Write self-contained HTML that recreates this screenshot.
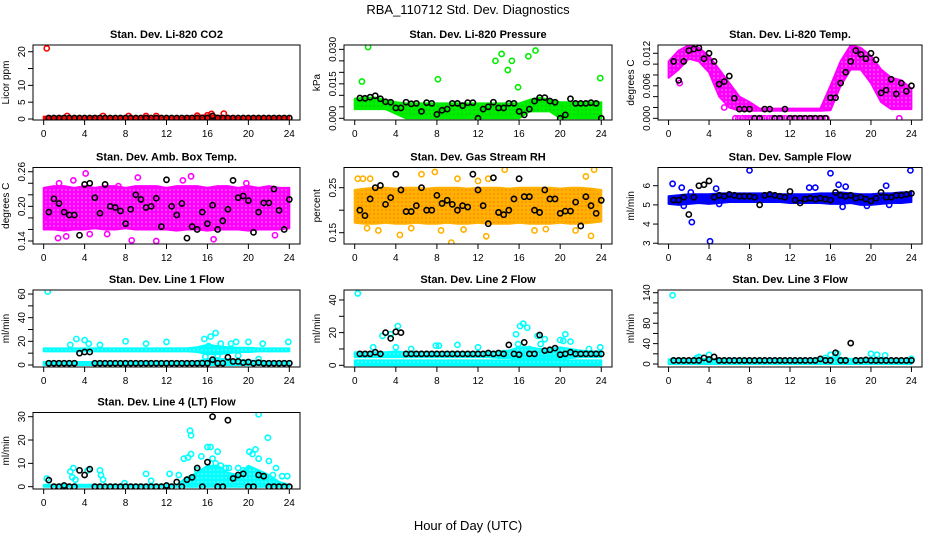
<!DOCTYPE html>
<html><head><meta charset="utf-8"><style>
html,body{margin:0;padding:0;background:#fff}
svg{display:block;font-family:"Liberation Sans",Arial,sans-serif}
</style></head><body>
<svg id="chart" width="936" height="540" viewBox="0 0 936 540">
<text x="468" y="14" text-anchor="middle" font-size="13">RBA_110712  Std. Dev. Diagnostics</text>
<text x="468" y="530" text-anchor="middle" font-size="13">Hour of Day (UTC)</text>
</svg>
<script>
const hours = [0,1,2,3,4,5,6,7,8,9,10,11,12,13,14,15,16,17,18,19,20,21,22,23,24];
const halfHours = [0.5,1,1.5,2,2.5,3,3.5,4,4.5,5,5.5,6,6.5,7,7.5,8,8.5,9,9.5,10,10.5,11,11.5,12,12.5,13,13.5,14,14.5,15,15.5,16,16.5,17,17.5,18,18.5,19,19.5,20,20.5,21,21.5,22,22.5,23,23.5,24];
const xTicks = [0,4,8,12,16,20,24];

// Panel 1 CO2
const co2BandLo = [0,0,0,0,0,0,0,0,0,0,0,0,0,0,0,0,0,0,0,0,0,0,0,0,0];
const co2BandHi = [0.7,0.7,0.8,0.7,0.7,0.8,0.7,0.7,0.8,0.7,0.8,0.8,0.7,0.7,0.8,1.0,1.1,1.0,0.8,0.7,0.7,0.7,0.7,0.7,0.7];
const co2Outliers = [[0.3,21],[16.4,1.5],[17.6,1.6],[2.3,0.9],[5.8,0.9],[8.3,0.9],[10,0.9],[11,0.9],[15,1.0],[16,1.1]];
const co2Black = [0.3,0.3,0.3,0.3,0.3,0.3,0.3,0.3,0.3,0.3,0.3,0.3,0.3,0.3,0.3,0.3,0.3,0.3,0.3,0.3,0.3,0.3,0.3,0.3,0.3,0.3,0.3,0.3,0.3,0.3,0.3,0.3,0.9,0.3,0.3,0.3,0.3,0.3,0.3,0.3,0.3,0.3,0.3,0.3,0.3,0.3,0.3,0.3];

// Panel 2 Pressure
const presBandLo = [0.004,0.004,0.004,0.004,0.002,0,0,0,0,0,0,0,0,0,0,0,0,0.003,0.003,0.003,0,0,0,0,0];
const presBandHi = [0.0085,0.009,0.009,0.008,0.007,0.0065,0.0065,0.0065,0.0065,0.0065,0.0065,0.0065,0.0065,0.0065,0.0065,0.0065,0.0065,0.008,0.009,0.008,0.007,0.007,0.007,0.007,0.007];
const presOutliers = [[0.7,0.016],[1.3,0.031],[8.1,0.017],[13.7,0.025],[14.3,0.028],[14.9,0.021],[15.3,0.025],[15.9,0.0135],[16.9,0.027],[17.6,0.0295],[23.9,0.0175]];
const presBlack = [0.0088,0.0087,0.0092,0.0098,0.0085,0.0072,0.007,0.0045,0.0045,0.007,0.0063,0.0065,0.003,0.0068,0.0065,0.0017,0.0035,0.004,0.0065,0.0065,0.0055,0.0068,0.0068,0,0.004,0.005,0.007,0.0045,0.0045,0.0065,0.0065,0.003,0.0015,0.004,0.0075,0.009,0.009,0.0075,0.007,0,0.0015,0.0085,0.0065,0.0065,0.0065,0.0068,0.0065,0];

// Panel 3 Li-820 Temp
const tempBandLo = [0.0075,0.009,0.011,0.0105,0.0085,0.004,0.002,0.0014,0.0014,0.0014,0.0014,0.0014,0.0014,0.0014,0.0014,0.0014,0.0015,0.006,0.009,0.009,0.0065,0.003,0.0017,0.0017,0.0017];
const tempBandHi = [0.0105,0.0125,0.0135,0.013,0.0115,0.009,0.0065,0.004,0.003,0.0018,0.0018,0.0018,0.0018,0.0018,0.0018,0.0018,0.006,0.0105,0.0135,0.013,0.0115,0.009,0.0075,0.007,0.0055];
const tempOutliers = [[6.6,0],[6.9,0],[7.3,0],[7.6,0],[7.9,0],[8.2,0],[8.5,0],[8.9,0],[9.2,0],[9.5,0],[9.9,0],[10.2,0],[10.5,0],[10.9,0],[11.2,0],[11.5,0],[11.9,0],[12.2,0],[12.5,0],[12.9,0],[13.2,0],[13.5,0],[13.9,0],[14.2,0],[14.5,0],[14.9,0],[15.2,0],[15.6,0],[22.8,0],[1.1,0.0065],[5.5,0.002]];
const tempBlack = [0.0105,0.007,0.0105,0.0125,0.0128,0.013,0.011,0.012,0.0105,0.0063,0.0068,0.0078,0.0037,0.0017,0.0017,0.0017,0,0,0.0017,0.0017,0,0,0.0017,0,0,0,0,0,0,0,0,0.0038,0.0038,0.0065,0.0085,0.0105,0.0125,0.0118,0.011,0.012,0.0108,0.0047,0.0052,0.0072,0.0045,0.0065,0.005,0.006];

// Panel 4 Amb Box Temp
const ambBandLo = [0.16,0.16,0.158,0.16,0.16,0.162,0.16,0.16,0.162,0.16,0.16,0.16,0.16,0.158,0.16,0.16,0.158,0.16,0.16,0.16,0.158,0.16,0.16,0.16,0.162];
const ambBandHi = [0.232,0.235,0.235,0.232,0.235,0.232,0.235,0.235,0.232,0.235,0.235,0.235,0.232,0.235,0.235,0.235,0.232,0.235,0.235,0.232,0.235,0.232,0.235,0.232,0.232];
const ambOutliers = [[1.5,0.24],[2.9,0.245],[4.1,0.257],[9.2,0.25],[14.4,0.252],[11,0.14],[8.6,0.141],[1.4,0.145],[16.6,0.143],[13.6,0.245],[19.8,0.24],[2.2,0.148],[22.6,0.15],[0.3,0.175],[4.5,0.152],[6.2,0.152],[7.3,0.235]];
const ambBlack = [0.19,0.213,0.205,0.19,0.185,0.185,0.15,0.238,0.24,0.215,0.188,0.238,0.2,0.198,0.192,0.17,0.195,0.22,0.212,0.198,0.2,0.214,0.165,0.246,0.2,0.185,0.205,0.145,0.165,0.16,0.19,0.17,0.202,0.16,0.175,0.195,0.245,0.215,0.218,0.21,0.155,0.19,0.206,0.206,0.23,0.193,0.16,0.212];

// Panel 5 Gas Stream RH
const rhBandLo = [0.172,0.17,0.17,0.172,0.17,0.17,0.172,0.17,0.17,0.172,0.17,0.17,0.172,0.17,0.17,0.17,0.172,0.17,0.17,0.17,0.172,0.17,0.17,0.172,0.175];
const rhBandHi = [0.245,0.248,0.25,0.25,0.248,0.25,0.25,0.248,0.25,0.25,0.25,0.248,0.25,0.25,0.25,0.248,0.25,0.25,0.25,0.25,0.248,0.25,0.25,0.248,0.245];
const rhOutliers = [[0.3,0.27],[0.8,0.27],[1.5,0.27],[6.5,0.28],[7.8,0.285],[10,0.27],[12,0.265],[13,0.27],[14.6,0.29],[22.5,0.275],[23.3,0.29],[2.3,0.155],[4.4,0.145],[8.4,0.155],[9.4,0.128],[10.6,0.157],[12.8,0.142],[23,0.143],[18.6,0.158],[17.5,0.155],[21.5,0.155],[1.2,0.16],[5.5,0.16]];
const rhBlack = [0.2,0.188,0.225,0.25,0.255,0.213,0.228,0.28,0.245,0.197,0.197,0.21,0.25,0.2,0.2,0.233,0.215,0.222,0.213,0.2,0.21,0.207,0.28,0.245,0.21,0.17,0.272,0.195,0.19,0.2,0.225,0.27,0.23,0.23,0.2,0.195,0.245,0.225,0.225,0.193,0.198,0.198,0.218,0.165,0.23,0.21,0.193,0.222];

// Panel 6 Sample Flow
const sfBandLo = [5.05,5.0,5.05,5.1,5.05,5.1,5.15,5.15,5.15,5.15,5.15,5.15,5.1,5.1,5.1,5.1,5.05,5.05,5.1,5.0,5.0,5.05,5.1,5.1,5.15];
const sfBandHi = [5.45,5.5,5.55,5.55,5.55,5.6,5.6,5.6,5.6,5.6,5.6,5.55,5.55,5.55,5.55,5.6,5.6,5.65,5.6,5.55,5.55,5.6,5.6,5.65,5.65];
const sfOutliers = [[0.4,6.1],[1.3,5.9],[2.3,4.1],[4.1,3.1],[4.7,5.85],[8,6.8],[14.5,5.9],[16,6.65],[16.8,6.05],[17.2,4.9],[17.5,5.95],[21.5,6.0],[23.9,6.8],[21.8,5.0],[1.5,4.95],[5,5.05],[2.2,5.65],[13.9,5.9],[19.6,4.95]];
const sfBlack = [5.25,5.25,5.4,4.5,5.4,6.0,6.05,6.25,5.4,5.5,5.45,5.55,5.5,5.45,5.45,5.45,5.4,5.0,5.5,5.55,5.5,5.45,5.4,5.7,5.25,5.1,5.3,5.35,5.3,5.35,5.3,5.25,5.65,5.5,5.45,5.5,5.35,5.4,5.3,5.2,5.35,5.65,5.4,5.4,5.5,5.5,5.55,5.6];

// Panel 7 Line 1 Flow
const l1BandLo = [11.5,11.5,11.5,11.5,11.5,11.5,11.5,11.5,11.5,11.5,11.5,11.5,11.5,11.5,11.5,11,9,9,10,11,11,11.5,11.5,11.5,11.5];
const l1BandHi = [14,14,14,14,14,14,14,14,14,14,14,14,14,14,14,15,17,16,15,14.5,14.5,14,14,14,14];
const l1LowBandLo = [0,0,0,0,0,0,0,0,0,0,0,0,0,0,0,0,0,0,0,0,0,0,0,0,0];
const l1LowBandHi = [2.5,2.5,2.5,2.5,2.5,2.5,2.5,2.5,2.5,2.5,2.5,2.5,2.5,2.5,2.5,3,5,5,5,4,4,3,2.5,2.5,2.5];
const l1Outliers = [[0.4,62],[2.6,17],[3.2,22],[4,21],[5.5,17],[8,20],[10,18],[12,19.5],[15.7,22],[16.3,24],[16.8,27],[17.3,18],[18.3,18],[18.8,19.5],[20,19.5],[21.4,18],[23.9,19.5],[4.4,18],[16.1,16],[17,8],[19,8],[21,5],[15.8,7]];
const l1Black = [1.5,1.5,1.5,1.5,1.5,1.5,10,11,11,1.5,1.5,1.5,1.5,1.5,1.5,1.5,1.5,1.5,1.5,1.5,1.5,1.5,1.5,1.5,1.5,1.5,1.5,1.5,1.5,1.5,1.5,1.5,4.5,1.5,1.5,6.5,3,3,2,2.5,1.5,2,1.5,1.5,1.5,1.5,1.5,1.5];

// Panel 8 Line 2 Flow
const l2BandLo = [5,5,5,5,5,5,5,5,5,5,5,5,5,5,4.5,4.5,4,4,4,4,4,4.5,5,5,5];
const l2BandHi = [8,8,8,8,8.5,8,8,8,8,8,8,8,8,8,8.5,9,11,11,10,10,11,10,9,8.5,8.5];
const l2LowBandLo = [0,0,0,0,0,0,0,0,0,0,0,0,0,0,0,0,0,0,0,0,0,0,0,0,0];
const l2LowBandHi = [3,3,3,3,3,3,3,3,3,3,3,3,3,3,3,3,3.5,3.5,3.5,3.5,3.5,3,3,3,3];
const l2Outliers = [[0.3,44],[1.8,11],[2.7,18],[3.5,19],[4,11],[4.2,24],[5.5,10],[7.9,12],[8.2,12],[10,12.5],[12,11],[15.7,19],[16.1,24],[16.4,25.5],[16.8,23],[17,10],[17.8,18],[18.1,13],[18.5,16],[19,9],[20,15.5],[20.5,19],[21,14.5],[22.8,10],[23.9,11],[15.9,13],[20.3,15]];
const l2Black = [7,7,7,8,7,20,16.5,20.5,20,7,7,7,7,7,7,7,7,7,7,7,7,7,7,7,7,7.5,7,7.5,7,12.5,7,6.5,14,7,7,18.5,9,9.5,10.5,6.5,7,8,7,7,7,7,7,7];

// Panel 9 Line 3 Flow
const l3BandLo = [0,0,0,0,0,0,0,0,0,0,0,0,0,0,0,0,0,0,0,0,0,0,0,0,0];
const l3BandHi = [9,9,9,10,10,9,9,9,9,9,9,9,9,9,10,11,13,12,10,10,11,10,9,9,9];
const l3Outliers = [[0.4,135],[3,14],[4,18],[16,18],[16.7,20],[20,20],[20.6,18],[21.4,17],[24,10],[2.8,12],[15.5,12]];
const l3Black = [7,7,7,7,7,7,12,9,14,7,7,7,7,7,7,7,7,7,7,7,7,7,7,7,7,7,7,7,7,10,7,7,22,7,7,41,7,7,8,7,7,7,7,7,7,7,7,7];

// Panel 10 Line 4 (LT) Flow
const l4BandLo = [0,0,0,0,0,0,0,0,0,0,0,0,0,0,0,0,0,0,0,0,0,0,0,0,0];
const l4BandHi = [0.8,0.8,0.8,0.8,0.8,0.8,0.8,0.8,0.8,0.8,0.8,0.8,0.8,0.8,4,6,9,9,6,5,9,7,5,2,0.8];
const l4Outliers = [[0.3,3.5],[2.6,6.5],[2.9,8],[2.8,4],[3.1,3],[4.3,7],[5.5,7],[5.6,5],[5.8,3],[7.9,1.5],[10,5.5],[10.5,2.5],[12.3,5.5],[13.2,5],[13.7,12],[14.1,12.5],[14.3,24],[14.4,22],[14.4,14],[15.4,13],[16,17],[16.3,17],[17,15],[17.3,9],[17.8,8],[18.1,8],[19,8],[20.1,15],[20.7,16],[21,31],[21,12],[21.9,21],[22,11],[22.7,8],[23.3,4.5],[23.8,4.5],[16.8,10],[15,7],[16.5,12],[19.5,7],[20.4,14],[22.4,5]];
const l4Black = [2.8,0,0,0.5,0,0,7,5,7.5,0,0,0,0,0,0,0,0,0,0,0,0,0,0,0.5,0,2,0,3,4,8,0,10.5,30,0,0,28.5,3.5,5,5.5,0,0,5,4.5,0,0,0,0,0];

const svg = document.getElementById('chart');
const NS = 'http://www.w3.org/2000/svg';
function mk(tag, attrs, parent){const e=document.createElementNS(NS,tag);for(const k in attrs)e.setAttribute(k,attrs[k]);(parent||svg).appendChild(e);return e;}

const colX = [[33,300],[344,612],[658,922]];
const rowY = [[45,120],[167.5,244],[290,367],[412.5,489]];

const panels = [
 {name:'co2',title:'Stan. Dev. Li-820 CO2',ylab:'Licor ppm',c:0,r:0,lo:-0.3,hi:22,ticks:[0,5,10,15,20],labels:[0,5,10,20],dec:0,color:'#ff0000',inner:'#000000',bands:[[co2BandLo,co2BandHi]],out:co2Outliers,black:co2Black},
 {name:'pressure',title:'Stan. Dev. Li-820 Pressure',ylab:'kPa',c:1,r:0,lo:-0.00074,hi:0.0319,ticks:[0,0.005,0.01,0.015,0.02,0.025,0.03],labels:[0,0.015,0.03],dec:3,color:'#00ee00',inner:'#00aa00',bands:[[presBandLo,presBandHi]],out:presOutliers,black:presBlack},
 {name:'li820-temp',title:'Stan. Dev. Li-820 Temp.',ylab:'degrees C',c:2,r:0,lo:-0.00031,hi:0.01353,ticks:[0,0.002,0.004,0.006,0.008,0.01,0.012],labels:[0,0.006,0.012],dec:3,color:'#ff00ff',inner:'#ffffff',bands:[[tempBandLo,tempBandHi]],out:tempOutliers,black:tempBlack},
 {name:'amb-box-temp',title:'Stan. Dev. Amb. Box Temp.',ylab:'degrees C',c:0,r:1,lo:0.1348,hi:0.2673,ticks:[0.14,0.16,0.18,0.2,0.22,0.24,0.26],labels:[0.14,0.2,0.26],dec:2,color:'#ff00ff',inner:'#ffffff',bands:[[ambBandLo,ambBandHi]],out:ambOutliers,black:ambBlack},
 {name:'gas-stream-rh',title:'Stan. Dev. Gas Stream RH',ylab:'percent',c:1,r:1,lo:0.1249,hi:0.2949,ticks:[0.15,0.2,0.25],labels:[0.15,0.25],dec:2,color:'#ffb000',inner:'#ff5000',bands:[[rhBandLo,rhBandHi]],out:rhOutliers,black:rhBlack},
 {name:'sample-flow',title:'Stan. Dev. Sample Flow',ylab:'ml/min',c:2,r:1,lo:2.96,hi:6.95,ticks:[3,4,5,6],labels:[3,4,5,6],dec:0,color:'#0000ff',inner:'#0000cc',bands:[[sfBandLo,sfBandHi]],out:sfOutliers,black:sfBlack},
 {name:'line1-flow',title:'Stan. Dev. Line 1 Flow',ylab:'ml/min',c:0,r:2,lo:-1.7,hi:63.4,ticks:[0,10,20,30,40,50,60],labels:[0,20,40,60],dec:0,color:'#00ffff',inner:'#ffffff',bands:[[l1BandLo,l1BandHi],[l1LowBandLo,l1LowBandHi]],out:l1Outliers,black:l1Black},
 {name:'line2-flow',title:'Stan. Dev. Line 2 Flow',ylab:'ml/min',c:1,r:2,lo:-1.04,hi:46.1,ticks:[0,10,20,30,40],labels:[0,20,40],dec:0,color:'#00ffff',inner:'#ffffff',bands:[[l2BandLo,l2BandHi],[l2LowBandLo,l2LowBandHi]],out:l2Outliers,black:l2Black},
 {name:'line3-flow',title:'Stan. Dev. Line 3 Flow',ylab:'ml/min',c:2,r:2,lo:-5.9,hi:145.3,ticks:[0,20,40,60,80,100,120,140],labels:[0,40,80,140],dec:0,color:'#00ffff',inner:'#ffffff',bands:[[l3BandLo,l3BandHi]],out:l3Outliers,black:l3Black},
 {name:'line4-flow',title:'Stan. Dev. Line 4 (LT) Flow',ylab:'ml/min',c:0,r:3,lo:-1.0,hi:31.8,ticks:[0,10,20,30],labels:[0,10,20,30],dec:0,color:'#00ffff',inner:'#ffffff',bands:[[l4BandLo,l4BandHi]],out:l4Outliers,black:l4Black}
];

const defs = mk('defs',{});
panels.forEach(p=>{
  const [x0,x1]=colX[p.c],[y0,y1]=rowY[p.r];
  const w=x1-x0, h=y1-y0;
  const xs=v=>x0+w*(0.04+0.92*v/24);
  const ys=v=>y1-(v-p.lo)/(p.hi-p.lo)*h;
  // texture pattern imitating dense overlapping open circles
  const pat=mk('pattern',{id:'pat-'+p.name,width:4,height:4,patternUnits:'userSpaceOnUse'},defs);
  mk('rect',{width:4,height:4,fill:p.color},pat);
  mk('rect',{x:1.5,y:1.5,width:1,height:1,fill:p.inner},pat);
  const g=mk('g',{});
  
  
  const t=mk('text',{x:(x0+x1)/2,y:y0-7,'text-anchor':'middle','font-size':'11','font-weight':'bold'},g);
  t.textContent=p.title;
  
  
  const yl=mk('text',{transform:`translate(${x0-24},${(y0+y1)/2}) rotate(-90)`,'text-anchor':'middle','font-size':'10'},g);
  yl.textContent=p.ylab;
  
  
  const cid='clip-'+p.name;
  const cp=mk('clipPath',{id:cid},g); mk('rect',{x:x0,y:y0,width:w,height:h},cp);
  const data=mk('g',{'clip-path':`url(#${cid})`},g);
  p.bands.forEach(b=>{
    let d='';
    hours.forEach((hh,i)=>{d+=(i?'L':'M')+xs(hh).toFixed(1)+','+ys(b[1][i]).toFixed(1);});
    for(let i=hours.length-1;i>=0;i--){d+='L'+xs(hours[i]).toFixed(1)+','+ys(b[0][i]).toFixed(1);}
    const pa=mk('path',{d:d+'Z',fill:`url(#pat-${p.name})`,stroke:p.color,'stroke-width':'2','stroke-linejoin':'round'},data);
    
    
  });
  p.out.forEach(o=>{
    const c=mk('circle',{cx:xs(o[0]),cy:ys(o[1]),r:2.6,fill:'none',stroke:p.color,'stroke-width':1.6},data);
    
    
  });
  p.black.forEach((v,i)=>{
    const c=mk('circle',{cx:xs(halfHours[i]),cy:ys(v),r:2.6,fill:'none',stroke:'#000','stroke-width':1.6},data);
    
    
  });
  const box=mk('rect',{x:x0,y:y0,width:w,height:h,fill:'none',stroke:'#000','stroke-width':1},g);
  
  
  xTicks.forEach(v=>{
    mk('line',{x1:xs(v),x2:xs(v),y1:y1,y2:y1+5,stroke:'#000'},g);
    const tl=mk('text',{x:xs(v),y:y1+17,'text-anchor':'middle','font-size':'10'},g);
    tl.textContent=v;
    
    
  });
  p.ticks.forEach(v=>{mk('line',{x1:x0-5,x2:x0,y1:ys(v),y2:ys(v),stroke:'#000'},g);});
  p.labels.forEach(v=>{
    const tl=mk('text',{transform:`translate(${x0-8},${ys(v)}) rotate(-90)`,'text-anchor':'middle','font-size':'10'},g);
    tl.textContent=v.toFixed(p.dec);
    
    
  });
});
</script>
</body></html>
